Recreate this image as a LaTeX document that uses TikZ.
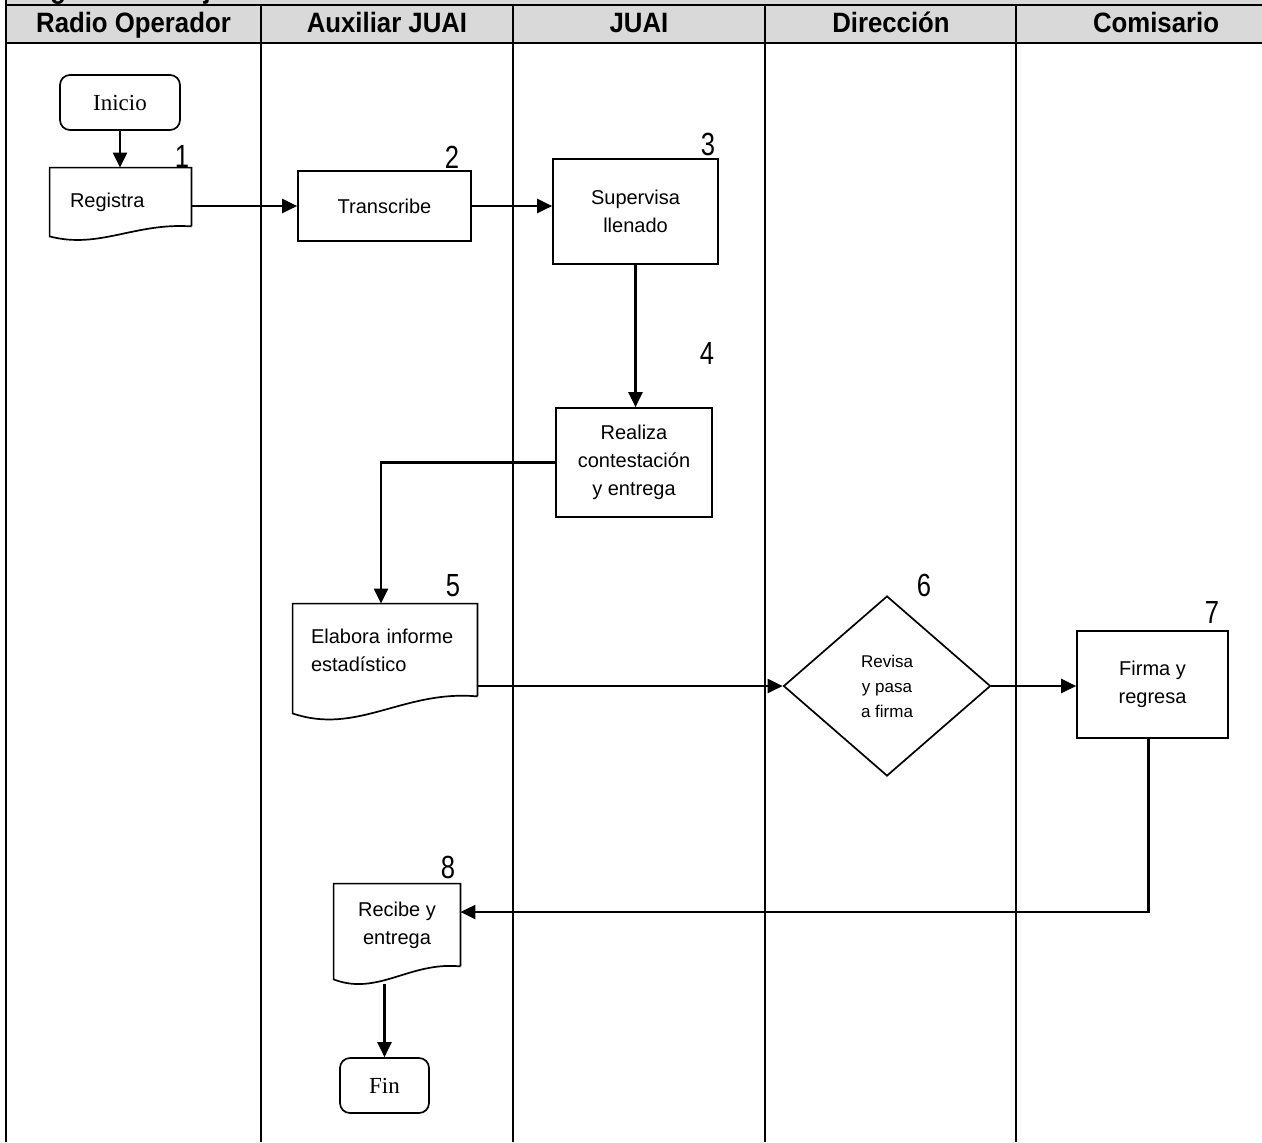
\documentclass[tikz,border=0pt]{standalone}
\usepackage{fontspec}
\setmainfont{Liberation Sans}
\newfontfamily\hdrfont[FakeStretch=0.92]{Liberation Sans}
\newfontfamily\numfont[FakeStretch=0.8]{Liberation Sans}
\newfontfamily\serfont{Liberation Serif}
\usetikzlibrary{arrows.meta,shapes.geometric,calc}
\definecolor{hdrgray}{HTML}{D9D9D9}
\tikzset{
  lane/.style={line width=1pt},
  boxln/.style={draw, line width=0.85pt},
  proc/.style={boxln, rectangle, inner sep=0pt, align=center, font=\fontsize{10}{14}\selectfont},
  docnode/.style={rectangle, inner sep=0pt, align=center, font=\fontsize{10}{14}\selectfont},
  term/.style={boxln, rounded corners=5pt, inner sep=0pt, font=\serfont\fontsize{11.5}{14}\selectfont},
  num/.style={font=\numfont\fontsize{16}{18}\selectfont, inner sep=0pt},
  hdr/.style={font=\hdrfont\bfseries\fontsize{14}{16}\selectfont, anchor=base, inner sep=0pt},
  arr/.style={line width=1.1pt, -{Triangle[length=7.5pt,width=7pt]}},
}
\newcommand\docoutline[2]{%
  \draw[boxln] (#1.south east) -- (#1.north east) -- (#1.north west) -- ($(#1.south west)+(0,#2)$)
    .. controls ($(#1.south west)!0.35!(#1.south east)+(0,2.3*#2)$) and ($(#1.south west)!0.6!(#1.south east)+(0,-0.4*#2)$) .. (#1.south east);}
\begin{document}
\begin{tikzpicture}[x=0.5pt,y=-0.5pt]
\useasboundingbox (0,0) rectangle (1262,1142);
% header band
\fill[hdrgray] (6,0) rectangle (1262,43);
\begin{scope}
  \clip (6,0) rectangle (1262,5.5);
  \node[hdr, anchor=base west] (title) at (10,-1.5) {Diagrama de flujo};
\end{scope}
\draw[lane] (6,5) -- (1262,5);
\draw[lane] (6,43) -- (1262,43);
\draw[lane] (6,0) -- (6,1142);
\foreach \x in {261,513,765,1016} \draw[lane] (\x,5) -- (\x,1142);
\node[hdr] (h1) at (133.5,32) {Radio Operador};
\node[hdr] (h2) at (387,32) {Auxiliar JUAI};
\node[hdr] (h3) at (639,32) {JUAI};
\node[hdr] (h4) at (891,32) {Dirección};
\node[hdr] (h5) at (1156,32) {Comisario};
% nodes
\node[term, minimum width=60pt, minimum height=27.5pt] (ini) at (120,102.5) {Inicio};
\node[docnode, minimum width=70.5pt, minimum height=29pt, text width=50.5pt, align=left, text height=12pt, text depth=2pt] (reg) at (120.5,197) {Registra};
\docoutline{reg}{10}
\node[proc, minimum width=86.5pt, minimum height=35pt] (tra) at (384.5,206) {Transcribe};
\node[proc, minimum width=82.5pt, minimum height=52.5pt] (sup) at (635.5,211.5) {Supervisa\\llenado};
\node[proc, minimum width=78pt, minimum height=54.5pt] (rea) at (634,462.5) {Realiza\\contestación\\y entrega};
\node[docnode, minimum width=92pt, minimum height=46pt, text width=74pt, align=left] (ela) at (385,650) {Elabora informe\\estadístico};
\docoutline{ela}{17}
\node[boxln, diamond, aspect=1.15, minimum width=103.5pt, minimum height=90pt, inner sep=0pt, align=center, font=\fontsize{8.5}{12.5}\selectfont] (rev) at (887,686) {Revisa\\y pasa\\a firma};
\node[proc, minimum width=75.5pt, minimum height=53.5pt] (fir) at (1152.5,684.5) {Firma y\\regresa};
\node[docnode, minimum width=63pt, minimum height=41pt] (rec) at (397,925) {Recibe y\\entrega};
\docoutline{rec}{13}
\node[term, minimum width=44.5pt, minimum height=27.5pt] (fin) at (384.5,1085.5) {Fin};
% numbers
\node[num] (n1) at (182,156) {1};
\node[num] (n2) at (452,157) {2};
\node[num] (n3) at (708,144) {3};
\node[num] (n4) at (707,353) {4};
\node[num] (n5) at (453,586) {5};
\node[num] (n6) at (924,585) {6};
\node[num] (n7) at (1212,612) {7};
\node[num] (n8) at (448,867) {8};
% connectors
\draw[arr] (ini.south) -- (ini.south |- reg.north);
\draw[arr] (reg.east |- tra.west) -- (tra.west);
\draw[arr] (tra.east) -- (tra.east -| sup.west);
\draw[arr] (sup.south) -- (sup.south |- rea.north);
\draw[arr] (rea.west) -| ([xshift=-2pt]ela.north);
\draw[arr] (ela.east |- rev.west) -- (rev.west);
\draw[arr] (rev.east) -- (rev.east -| fir.west);
\draw[arr] ([xshift=-2pt]fir.south) |- ([yshift=6.5pt]rec.east);
\draw[arr] (fin.north |- rec.south) ++(0,18) -- (fin.north);
\end{tikzpicture}
\end{document}
